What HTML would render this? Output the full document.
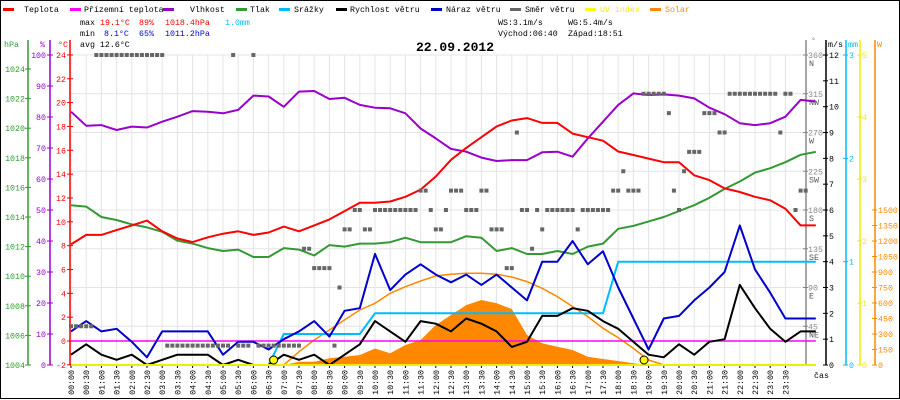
<!DOCTYPE html>
<html><head><meta charset="utf-8"><style>
html,body{margin:0;padding:0;background:#fff}
svg{display:block}
text{font-family:"Liberation Mono",monospace;font-size:8.3px}
</style></head><body>
<svg id="c" width="900" height="400" viewBox="0 0 900 400" xmlns="http://www.w3.org/2000/svg">
<rect x="0.5" y="0.5" width="899" height="398" fill="#fff" stroke="#000"/>
<g id="grid"></g>
<g id="legend"></g>
<g>
<text x="80" y="25" fill="#000">max</text><text x="100" y="25" fill="#f00">19.1°C</text><text x="139" y="25" fill="#f00">89%</text><text x="165" y="25" fill="#f00">1018.4hPa</text><text x="225" y="25" fill="#00bfff">1.0mm</text>
<text x="80" y="36" fill="#000">min</text><text x="104" y="36" fill="#00c">8.1°C</text><text x="139" y="36" fill="#00c">65%</text><text x="165" y="36" fill="#00c">1011.2hPa</text>
<text x="80" y="47" fill="#000">avg 12.6°C</text>
<text x="498" y="25" fill="#000">WS:3.1m/s</text><text x="568" y="25" fill="#000">WG:5.4m/s</text>
<text x="498" y="36" fill="#000">Východ:06:40</text><text x="568" y="36" fill="#000">Západ:18:51</text>
<text x="416" y="51" style="font-size:13px;font-weight:bold" fill="#000">22.09.2012</text>
</g>
<g id="axes"></g>
<g id="series"></g>
</svg>
<script>
const times=["00:00","00:30","01:00","01:30","02:00","02:30","03:00","03:30","04:00","04:30","05:00","05:30","06:00","06:30","07:00","07:30","08:00","08:30","09:00","09:30","10:00","10:30","11:00","11:30","12:00","12:30","13:00","13:30","14:00","14:30","15:00","15:30","16:00","16:30","17:00","17:30","18:00","18:30","19:00","19:30","20:00","20:30","21:00","21:30","22:00","22:30","23:00","23:30"];
const temp=[8.1,8.9,8.9,9.3,9.7,10.1,9.2,8.6,8.3,8.7,9.0,9.2,8.9,9.1,9.6,9.2,9.7,10.2,10.9,11.6,11.6,11.7,12.1,12.7,13.8,15.2,16.2,17.1,18.0,18.5,18.7,18.3,18.3,17.4,17.1,16.8,15.9,15.6,15.3,15.0,15.0,13.9,13.5,12.8,12.5,12.1,11.8,11.1,9.7,9.7];
const groundTemp=[0,0,0,0,0,0,0,0,0,0,0,0,0,0,0,0,0,0,0,0,0,0,0,0,0,0,0,0,0,0,0,0,0,0,0,0,0,0,0,0,0,0,0,0,0,0,0,0,0,0];
const humidity=[81.7,77.2,77.4,75.8,76.9,76.6,78.5,80.1,81.9,81.7,81.2,82.3,86.9,86.6,83.3,88.2,88.4,85.8,86.2,83.9,83.0,82.8,81.2,76.3,73.1,69.7,68.8,66.9,65.8,66.1,66.1,68.6,68.8,67.2,73.1,78.5,83.9,87.6,87.1,87.3,86.9,86.0,83.0,80.9,78.0,77.4,78.0,80.1,85.5,85.0];
const pressure=[1014.8,1014.7,1014.0,1013.8,1013.5,1013.3,1013.0,1012.4,1012.2,1011.9,1011.7,1011.8,1011.3,1011.3,1011.9,1011.8,1011.4,1012.1,1012.0,1012.2,1012.2,1012.3,1012.6,1012.3,1012.3,1012.3,1012.7,1012.6,1011.7,1011.9,1011.5,1011.5,1011.7,1011.5,1012.0,1012.2,1013.2,1013.4,1013.7,1014.0,1014.4,1014.8,1015.3,1015.9,1016.4,1017.0,1017.3,1017.7,1018.2,1018.4];
const rain=[0,0,0,0,0,0,0,0,0,0,0,0,0,0,0.3,0.3,0.3,0.3,0.3,0.3,0.5,0.5,0.5,0.5,0.5,0.5,0.5,0.5,0.5,0.5,0.5,0.5,0.5,0.5,0.5,0.5,1.0,1.0,1.0,1.0,1.0,1.0,1.0,1.0,1.0,1.0,1.0,1.0,1.0,1.0];
const windSpeed=[0.4,0.8,0.4,0.2,0.4,0,0.2,0.4,0.4,0.4,0,0.2,0,0,0.4,0.2,0.4,0,0.4,0.8,1.7,1.3,0.9,1.7,1.6,1.3,1.8,1.6,1.3,0.7,0.9,1.9,1.9,2.2,2.1,1.7,1.4,0.9,0.4,0.3,0.8,0.4,0.9,1.0,3.1,2.2,1.4,0.9,1.3,1.3];
const windGust=[1.3,1.7,1.3,1.4,0.9,0.3,1.3,1.3,1.3,1.3,0.4,0.9,0.9,0.6,1.0,1.3,1.7,1.1,2.1,2.2,4.3,2.9,3.5,3.9,3.5,3.2,3.5,3.1,3.5,3.0,2.5,4.0,4.0,4.8,3.9,4.4,3.0,1.8,0.6,1.8,1.9,2.5,3.0,3.6,5.4,3.7,2.8,1.8,1.8,1.8];
const solar=[0,0,0,0,0,0,0,0,0,0,0,0,0,0,0,32,32,65,80,97,160,113,194,242,387,484,580,629,597,542,290,210,177,145,80,58,39,16,0,0,0,0,0,0,0,0,0,0,0,0];
const solarMax=[0,0,0,0,0,0,0,0,0,0,0,0,0,0,0,129,242,339,436,532,597,694,758,813,862,878,887,887,878,852,807,742,662,565,468,355,265,161,48,0,0,0,0,0,0,0,0,0,0,0];
const uv=[0,0,0,0,0,0,0,0,0,0,0,0,0,0,0,0,0,0,0,0,0,0,0,0,0,0,0,0,0,0,0,0,0,0,0,0,0,0,0,0,0,0,0,0,0,0,0,0,0,0];
const windDir=[45,45,45,45,45,360,360,360,360,360,360,360,360,360,360,360,360,360,360,22.5,22.5,22.5,22.5,22.5,22.5,22.5,22.5,22.5,22.5,22.5,22.5,22.5,360,22.5,22.5,22.5,360,22.5,22.5,22.5,22.5,22.5,22.5,22.5,22.5,22.5,135,135,112.5,112.5,112.5,112.5,22.5,90,157.5,157.5,180,180,157.5,157.5,180,180,180,180,180,180,180,180,180,202.5,202.5,180,157.5,157.5,180,202.5,202.5,202.5,180,180,180,202.5,202.5,157.5,157.5,157.5,112.5,112.5,270,180,180,135,180,157.5,180,180,180,180,180,180,157.5,180,180,180,180,180,180,202.5,202.5,225,202.5,202.5,202.5,315,315,315,315,315,292.5,202.5,180,225,247.5,247.5,247.5,292.5,292.5,292.5,270,270,315,315,315,315,315,315,315,315,315,315,270,315,315,180,202.5,202.5];
const tempTicks=[-2,0,2,4,6,8,10,12,14,16,18,20,22,24];
const humTicks=[0,10,20,30,40,50,60,70,80,90,100];
const presTicks=[1004,1006,1008,1010,1012,1014,1016,1018,1020,1022,1024];
const dirTicks=[45,90,135,180,225,270,315,360];
const dirNames=["NE","E","SE","S","SW","W","NW","N"];
const msTicks=[0,1,2,3,4,5,6,7,8,9,10,11,12];
const mmTicks=[0,1,2,3];
const uvTicks=[0,1,2,3,4,5];
const wTicks=[0,150,300,450,600,750,900,1050,1200,1350,1500];
const sunEvents=[13.33,37.7];

const NS="http://www.w3.org/2000/svg";
const TOP=55,BOT=365,H=310,X0=71,STEP=15.2;
const xs=i=>X0+i*STEP;
const yT=v=>341-v*11.92;
const yH=v=>BOT-v*3.1;
const yP=v=>BOT-(v-1004)*14.8;
const yMs=v=>BOT-v*H/12;
const yMm=v=>BOT-v*H/3;
const yUv=v=>BOT-v*H/5;
const yW=v=>BOT-v*H/3000;
const yD=v=>BOT-v*H/360;
function el(tag,attrs,parent,txt){const e=document.createElementNS(NS,tag);for(const k in attrs)e.setAttribute(k,attrs[k]);if(txt!==undefined)e.textContent=txt;parent.appendChild(e);return e;}
const grid=document.getElementById('grid'),axes=document.getElementById('axes'),ser=document.getElementById('series'),leg=document.getElementById('legend');

for(let k=0;k<=8;k++){const l=el('line',{x1:70,x2:806,y1:TOP+k*H/8,y2:TOP+k*H/8,stroke:'#e4e4e4'},grid);}
times.forEach((t,i)=>{const x=xs(i);const l=el('line',{x1:x,x2:x,y1:TOP,y2:BOT,stroke:'#e4e4e4'},grid);
 el('line',{x1:x,x2:x,y1:BOT,y2:BOT+3,stroke:'#000'},axes);
 const tx=el('text',{x:0,y:0,transform:`translate(${x+3},${BOT+5}) rotate(-90)`,'text-anchor':'end',fill:'#000'},axes,t);});
el('text',{x:814,y:378,fill:'#000'},axes,'čas');

const legItems=[["Teplota","#f00",3,24,"#000"],["Přízemní teplota","#f0f",70,84,"#000"],["Vlhkost","#90c",163,190,"#000"],["Tlak","#393",236,250,"#000"],["Srážky","#0bf",279,294,"#000"],["Rychlost větru","#000",336,350,"#000"],["Náraz větru","#00c",431,446,"#000"],["Směr větru","#666",510,525,"#000"],["UV index","#ff0",585,600,"#ee0"],["Solar","#f80",650,665,"#f80"]];
legItems.forEach(it=>{const g=el('g',{},leg);
 el('rect',{x:it[2],y:8,width:11,height:3,fill:it[1]},g);el('text',{x:it[3],y:12,fill:it[4]},g,it[0]);});

function vaxis(x,color,ticks,yf,labelX,anchor,name,right){const g=el('g',{},axes);
 el('line',{x1:x,x2:x,y1:40,y2:BOT,stroke:color,'stroke-width':1.5},g);
 ticks.forEach(t=>{const y=yf(t);el('line',{x1:right?x-3:x-3,x2:right?x+2:x+3,y1:y,y2:y,stroke:color},g);el('text',{x:labelX,y:y+3,fill:color,'text-anchor':anchor},g,t);});return g;}
vaxis(28,'#393',presTicks,yP,25,'end','pressure-axis');
vaxis(50,'#90c',humTicks,yH,46,'end','humidity-axis');
vaxis(70,'#f00',tempTicks,yT,66,'end','temperature-axis');
el('text',{x:4,y:47,fill:'#393'},axes,'hPa');el('text',{x:40,y:47,fill:'#90c'},axes,'%');el('text',{x:58,y:47,fill:'#f00'},axes,'°C');
const dg=vaxis(806,'#888',dirTicks,yD,808,'start','direction-axis',true);
dirTicks.forEach((t,i)=>el('text',{x:809,y:yD(t)+11,fill:'#555'},dg,dirNames[i]));
vaxis(826,'#000',msTicks,yMs,829,'start','wind-speed-axis',true);
vaxis(846,'#0bf',mmTicks,yMm,849,'start','rain-axis',true);
vaxis(860,'#ee0',uvTicks,yUv,862,'start','uv-axis',true);
vaxis(875,'#f80',wTicks,yW,878,'start','solar-axis',true);
el('text',{x:811,y:43,fill:'#888'},axes,'°');el('text',{x:828,y:47,fill:'#000'},axes,'m/s');el('text',{x:848,y:47,fill:'#0bf'},axes,'mm');el('text',{x:877,y:47,fill:'#f80'},axes,'W');

function pts(arr,yf){return arr.map((v,i)=>xs(i).toFixed(1)+','+yf(v).toFixed(1)).join(' ');}
const area=el('polygon',{points:xs(0)+','+BOT+' '+pts(solar,yW)+' '+xs(solar.length-1)+','+BOT,fill:'#f80'},ser);

function line(arr,yf,color,name,w){const p=el('polyline',{points:pts(arr,yf),fill:'none',stroke:color,'stroke-width':w||2,'stroke-linejoin':'round'},ser);}
line(solarMax,yW,'#f80','solar-max-line',1.5);
line(groundTemp,yT,'#f0f','ground-temp-line',1.5);
line(pressure,yP,'#393','pressure-line');
line(humidity,yH,'#90c','humidity-line');
line(temp,yT,'#f00','temperature-line');
line(rain,yMm,'#0bf','rain-line');
line(windGust,yMs,'#00c','wind-gust-line');
line(windSpeed,yMs,'#000','wind-speed-line');
line(uv,yUv,'#ee0','uv-line',2);
windDir.forEach((d,j)=>{const r=el('rect',{x:X0+j*STEP/3-2,y:yD(d)-2,width:4,height:4,fill:'#666'},ser);});
sunEvents.forEach(s=>{const c=el('circle',{cx:xs(s),cy:360,r:4,fill:'#ff0',stroke:'#000','stroke-width':1},ser);});
</script>
</body></html>
